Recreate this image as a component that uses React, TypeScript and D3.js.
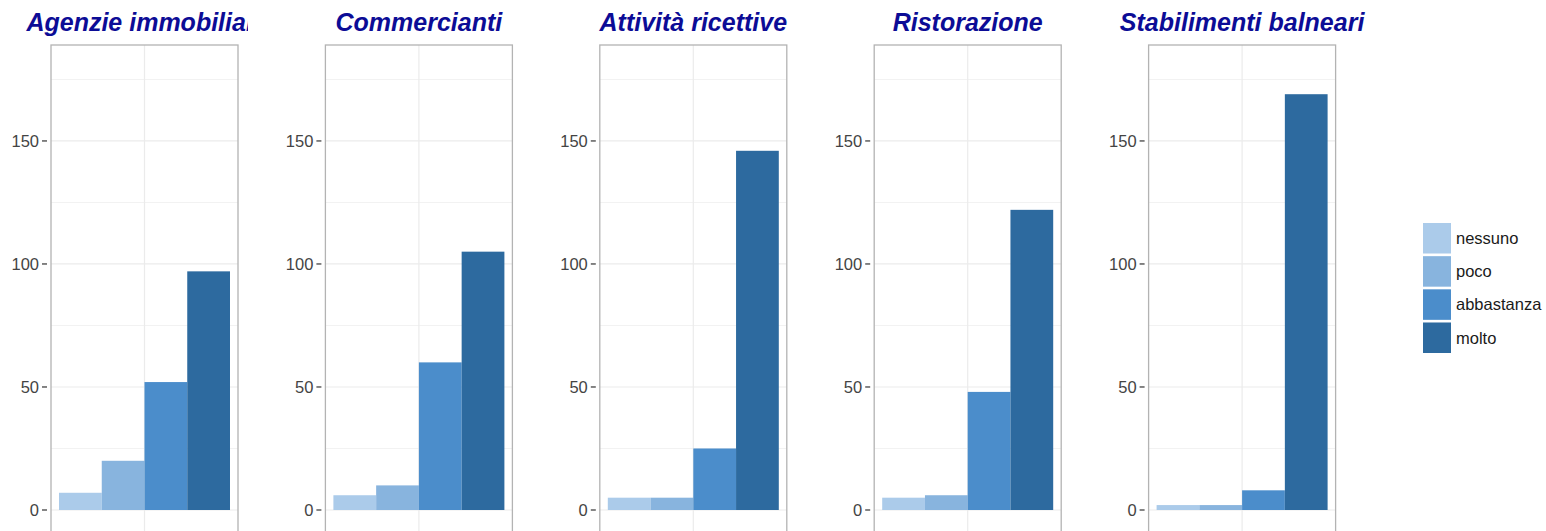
import React from "react";
import * as d3 from "d3";

const panels = ["Agenzie immobiliari", "Commercianti", "Attività ricettive", "Ristorazione", "Stabilimenti balneari"];
const levels = ["nessuno", "poco", "abbastanza", "molto"];
const nessuno = [7, 6, 5, 5, 2];
const poco = [20, 10, 5, 6, 2];
const abbastanza = [52, 60, 25, 48, 8];
const molto = [97, 105, 146, 122, 169];
const yTicks = [0, 50, 100, 150];
const yMinor = [25, 75, 125, 175];
const colors = ["#abcbea", "#88b4de", "#4b8dcb", "#2d6a9f"];

const W = 1546;
const H = 531;
const panelLeft0 = 51;
const panelStep = 274.4;
const panelW = 187;
const panelTop = 45;
const panelBottom = 533;

export default function App() {
  const series = [nessuno, poco, abbastanza, molto];
  const y = d3.scaleLinear().domain([-9.35, 189]).range([panelBottom, panelTop]);
  const xBand = d3.scaleBand().domain(levels).range([8, panelW - 8]).paddingInner(0).paddingOuter(0);
  const legendY = d3.scaleBand().domain(levels).range([223, 353]).paddingInner(0.08);

  return (
    <svg width={W} height={H} style={{ position: "absolute", left: 0, top: 0, background: "#fff" }}
      fontFamily="'Liberation Sans', Arial, sans-serif">
      <defs>
        <clipPath id="clip0"><rect x={0} y={0} width={248} height={45} /></clipPath>
      </defs>
      {panels.map((p, i) => {
        const left = panelLeft0 + i * panelStep;
        return (
          <g key={p}>
            <g transform={`translate(${left},0)`}>
              {yMinor.map(t => (
                <line key={"m" + t} x1={0} x2={panelW} y1={y(t)} y2={y(t)} stroke="#f2f2f2" strokeWidth={1} />
              ))}
              {yTicks.map(t => (
                <line key={"g" + t} x1={0} x2={panelW} y1={y(t)} y2={y(t)} stroke="#ebebeb" strokeWidth={1.2} />
              ))}
              <line x1={panelW / 2} x2={panelW / 2} y1={panelTop} y2={panelBottom} stroke="#ebebeb" strokeWidth={1.2} />
              {levels.map((lv, j) => (
                <rect key={lv} x={xBand(lv)} width={xBand.bandwidth()} y={y(series[j][i])}
                  height={y(0) - y(series[j][i])} fill={colors[j]} />
              ))}
              <rect x={0} y={panelTop} width={panelW} height={panelBottom - panelTop} fill="none" stroke="#b3b3b3" strokeWidth={1.3} />
              {yTicks.map(t => (
                <g key={"t" + t}>
                  <line x1={-9} x2={-4} y1={y(t)} y2={y(t)} stroke="#333" strokeWidth={1.2} />
                  <text x={-12} y={y(t)} dy="0.35em" textAnchor="end" fontSize={16.5} fill="#444">{t}</text>
                </g>
              ))}
            </g>
            <text x={left + panelW / 2} y={31} textAnchor="middle" fontSize={25} fontWeight="bold" fontStyle="italic"
              fill="#0c0c96" clipPath={i === 0 ? "url(#clip0)" : undefined}>{p}</text>
          </g>
        );
      })}
      {levels.map((lv, j) => (
        <g key={"leg" + lv}>
          <rect x={1423} y={legendY(lv)} width={28} height={legendY.bandwidth()} fill={colors[j]} />
          <text x={1456} y={(legendY(lv) as number) + legendY.bandwidth() / 2} dy="0.35em" fontSize={16.5} fill="#1a1a1a">{lv}</text>
        </g>
      ))}
    </svg>
  );
}
